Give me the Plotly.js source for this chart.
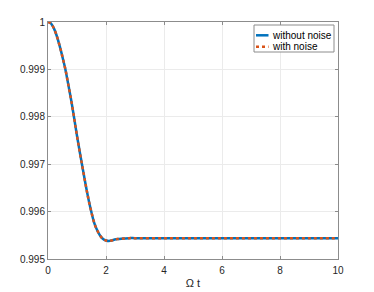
<!DOCTYPE html>
<html>
<head>
<meta charset="utf-8">
<script src="https://cdn.plot.ly/plotly-3.0.1.min.js"></script>
<style>html,body{margin:0;padding:0;background:#fff;}#chart{width:374px;height:292px;}</style>
</head>
<body>
<div id="chart"></div>
<script>
const t = [0, 0.1, 0.2, 0.3, 0.4, 0.5, 0.6, 0.7, 0.8, 0.9, 1.0, 1.1, 1.2, 1.3, 1.4, 1.5, 1.6, 1.7, 1.8, 1.9, 2.0, 2.1, 2.2, 2.3, 2.4, 2.6, 2.8, 3.0, 4, 5, 6, 7, 8, 9, 10];
const withoutNoise = [1.0, 0.99997, 0.99987, 0.99971, 0.99950, 0.99926, 0.99900, 0.99868, 0.99835, 0.99798, 0.99760, 0.99724, 0.99690, 0.99656, 0.99625, 0.99598, 0.99575, 0.99560, 0.99549, 0.99542, 0.99539, 0.99538, 0.99539, 0.99541, 0.99542, 0.99543, 0.99544, 0.99544, 0.99544, 0.99544, 0.99544, 0.99544, 0.99544, 0.99544, 0.99544];
const withNoise = [1.0, 0.99997, 0.99987, 0.99971, 0.99950, 0.99926, 0.99900, 0.99868, 0.99835, 0.99798, 0.99760, 0.99724, 0.99690, 0.99656, 0.99625, 0.99598, 0.99575, 0.99560, 0.99549, 0.99542, 0.99539, 0.99538, 0.99539, 0.99541, 0.99542, 0.99543, 0.99544, 0.99544, 0.99544, 0.99544, 0.99544, 0.99544, 0.99544, 0.99544, 0.99544];
const xTicks = [0, 2, 4, 6, 8, 10];
const yTicks = [0.995, 0.996, 0.997, 0.998, 0.999, 1];
const yTickText = ['0.995', '0.996', '0.997', '0.998', '0.999', '1'];
const seriesNames = ['without noise', 'with noise'];
const seriesColors = ['#0072BD', '#D95319'];
const seriesDash = ['solid', 'dot'];

const FONT = 'Liberation Sans, Arial, sans-serif';
const axisCommon = {
  showline: true, mirror: 'ticks', linecolor: '#8c8c8c', linewidth: 1,
  ticks: 'inside', ticklen: 3, tickcolor: '#8c8c8c',
  showgrid: true, gridcolor: '#ebebeb', gridwidth: 1,
  zeroline: false,
  tickfont: {family: FONT, size: 10, color: '#262626'}
};

const data = seriesNames.map((name, i) => ({
  x: t, y: i === 0 ? withoutNoise : withNoise, name: name, mode: 'lines',
  line: {color: seriesColors[i], width: 2.5, dash: seriesDash[i], shape: 'spline'}
}));

// custom compact legend (plot-area fractions: plot spans x 48..338, y 22..259 px)
const px = v => (v - 48) / 290;
const py = v => (259 - v) / 237;
const legRows = [35.3, 46.7];
const shapes = [
  {type: 'rect', xref: 'paper', yref: 'paper', x0: px(254), x1: px(334), y0: py(52), y1: py(25),
   line: {color: '#8c8c8c', width: 1}, fillcolor: '#fff', layer: 'above'}
];
const annotations = [];
seriesNames.forEach((name, i) => {
  shapes.push({type: 'line', xref: 'paper', yref: 'paper', x0: px(256), x1: px(268.5), y0: py(legRows[i]), y1: py(legRows[i]),
    line: {color: seriesColors[i], width: 2.5, dash: seriesDash[i]}, layer: 'above'});
  annotations.push({xref: 'paper', yref: 'paper', x: px(270), y: py(legRows[i]), xanchor: 'left', yanchor: 'middle',
    text: name, showarrow: false, font: {family: FONT, size: 10, color: '#000'}});
});

const layout = {
  width: 374, height: 292,
  margin: {l: 48, r: 36, t: 22, b: 33},
  paper_bgcolor: '#fff', plot_bgcolor: '#fff',
  showlegend: false,
  shapes: shapes,
  annotations: annotations,
  xaxis: Object.assign({}, axisCommon, {
    range: [0, 10], tickvals: xTicks, ticktext: xTicks.map(String),
    ticklabelstandoff: 2,
    title: {text: 'Ω t', font: {family: FONT, size: 11, color: '#262626'}, standoff: 4}
  }),
  yaxis: Object.assign({}, axisCommon, {
    range: [0.995, 1], tickvals: yTicks, ticktext: yTickText
  })
};

Plotly.newPlot('chart', data, layout, {displayModeBar: false, staticPlot: true});
</script>
</body>
</html>
